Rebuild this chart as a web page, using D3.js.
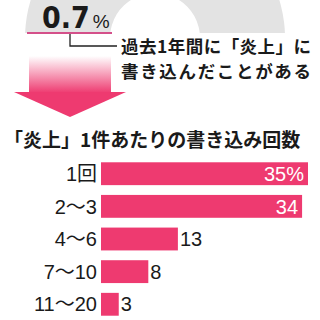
<!DOCTYPE html>
<html>
<head>
<meta charset="utf-8">
<script src="https://cdn.jsdelivr.net/npm/d3@7"></script>
<style>
  body { margin: 0; background: #fff; }
  svg { display: block; }
</style>
</head>
<body>
<div id="chart"></div>
<script>
// donut share at the top
const shareLabel = "0.7";
const shareValues = [0.7, 99.3];
const shareText = ["過去1年間に「炎上」に", "書き込んだことがある"];

// bars
const title = "「炎上」1件あたりの書き込み回数";
const categories = ["1回", "2〜3", "4〜6", "7〜10", "11〜20"];
const values = [35, 34, 13, 8, 3];
const valueLabels = ["35%", "34", "13", "8", "3"];

const pink = "#ee3a70";
const jp = "'Noto Sans CJK JP', sans-serif";
const num = "'Liberation Sans', 'Noto Sans CJK JP', sans-serif";

const width = 320, height = 320;

const svg = d3.select("#chart").append("svg")
    .attr("width", width)
    .attr("height", height);

const defs = svg.append("defs");
defs.append("clipPath").attr("id", "topclip")
  .append("rect").attr("x", 0).attr("y", 0).attr("width", width).attr("height", 33);

const grad = defs.append("linearGradient").attr("id", "fade")
    .attr("x1", 0).attr("y1", 0).attr("x2", 0).attr("y2", 1);
grad.append("stop").attr("offset", "0%").attr("stop-color", pink).attr("stop-opacity", 0);
grad.append("stop").attr("offset", "100%").attr("stop-color", pink).attr("stop-opacity", 1);

// donut (cropped, only the top part shows)
const pie = d3.pie().sort(null).startAngle(Math.PI).endAngle(3 * Math.PI);
const arc = d3.arc().innerRadius(45).outerRadius(130);
svg.append("g")
    .attr("clip-path", "url(#topclip)")
  .append("g")
    .attr("transform", "translate(155,38)")
  .selectAll("path")
  .data(pie(shareValues))
  .join("path")
    .attr("d", arc)
    .attr("fill", (d, i) => i == 0 ? pink : "#e3e3e3");

svg.append("text")
    .attr("x", 42).attr("y", 28)
    .attr("font-family", "'DejaVu Sans Condensed', sans-serif")
    .attr("font-weight", "bold")
    .attr("font-size", 30)
    .attr("fill", "#1a1a1a")
    .text(shareLabel)
  .append("tspan")
    .attr("dx", 3)
    .attr("font-family", num)
    .attr("font-weight", "normal")
    .attr("font-size", 19)
    .text("%");

svg.append("line")
    .attr("x1", 27).attr("x2", 112).attr("y1", 33).attr("y2", 33)
    .attr("stroke", "#d4508a").attr("stroke-width", 2);

svg.append("path")
    .attr("d", "M70,34V46H117")
    .attr("fill", "none")
    .attr("stroke", "#222")
    .attr("stroke-width", 1.3);

// two-line caption as one text block
svg.append("text")
    .attr("y", 53)
    .attr("font-family", jp)
    .attr("font-weight", "bold")
    .attr("font-size", 17.5)
    .attr("fill", "#1a1a1a")
  .selectAll("tspan")
  .data(shareText)
  .join("tspan")
    .attr("x", 121)
    .attr("dy", (d, i) => i == 0 ? 0 : 25)
    .attr("textLength", 190)
    .attr("lengthAdjust", "spacing")
    .text(d => d);

// arrow
svg.append("rect")
    .attr("x", 29).attr("y", 56).attr("width", 82).attr("height", 37)
    .attr("fill", "url(#fade)");
svg.append("path")
    .attr("d", "M14,92H126L70,117Z")
    .attr("fill", pink);

svg.append("text")
    .attr("x", 4).attr("y", 147)
    .attr("font-family", jp)
    .attr("font-weight", "bold")
    .attr("font-size", 19)
    .attr("fill", "#1a1a1a")
    .text(title);

// bar chart
const x = d3.scaleLinear().domain([0, 35]).range([101, 308]);
const y = d3.scaleBand().domain(categories).range([160, 318]).paddingInner(0.3).paddingOuter(0.07);

const bars = svg.append("g");
bars.selectAll("rect")
  .data(values)
  .join("rect")
    .attr("x", x(0))
    .attr("y", (d, i) => y(categories[i]))
    .attr("width", d => x(d) - x(0))
    .attr("height", y.bandwidth())
    .attr("fill", pink);

const yAxis = svg.append("g")
    .attr("transform", `translate(${x(0) - 4},0)`)
    .call(d3.axisLeft(y).tickSize(0).tickPadding(0));
yAxis.select(".domain").remove();
yAxis.selectAll("text")
    .attr("font-family", num)
    .attr("font-size", 20)
    .attr("fill", "#1a1a1a")
    .attr("dy", "0.36em");

bars.selectAll("text")
  .data(values)
  .join("text")
    .attr("x", (d, i) => i < 2 ? x(d) - 4 : x(d) + 2)
    .attr("y", (d, i) => y(categories[i]) + y.bandwidth() / 2)
    .attr("dy", "0.36em")
    .attr("text-anchor", (d, i) => i < 2 ? "end" : "start")
    .attr("font-family", num)
    .attr("font-size", 20)
    .attr("fill", (d, i) => i < 2 ? "#fff" : "#1a1a1a")
    .text((d, i) => valueLabels[i]);
</script>
</body>
</html>
